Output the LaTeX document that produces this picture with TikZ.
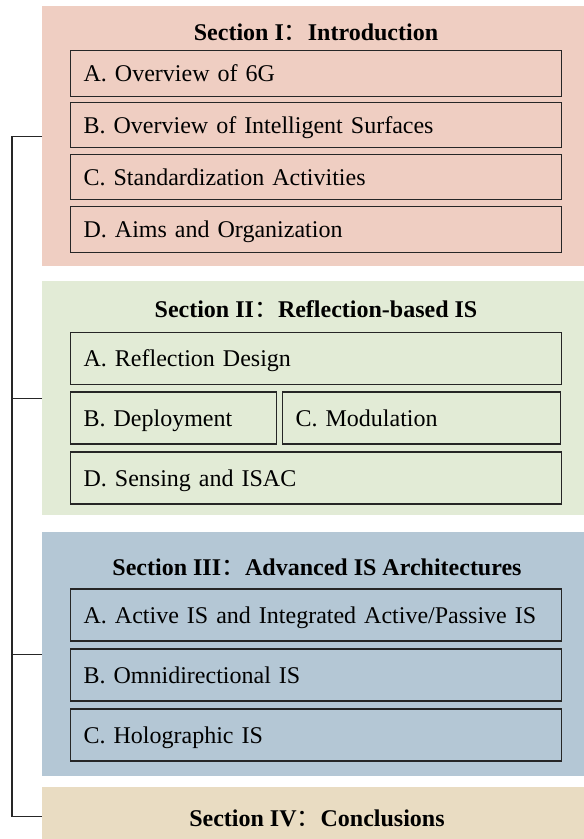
\documentclass[tikz,border=0pt]{standalone}
\usepackage{fontspec}
\setmainfont{Liberation Serif}
\newfontfamily\cjk{Noto Sans CJK SC}
\usepackage{tikz}
\usetikzlibrary{positioning}

\definecolor{secone}{HTML}{EFCEC2}
\definecolor{sectwo}{HTML}{E2EBD6}
\definecolor{secthree}{HTML}{B4C7D5}
\definecolor{secfour}{HTML}{E9DCC2}
\definecolor{boxline}{HTML}{262626}

\begin{document}
\begin{tikzpicture}[x=1pt,y=-1pt,font=\fontsize{24}{28}\selectfont]
	\useasboundingbox (0,0) rectangle (584,839);
	% section backgrounds
	\begin{scope}[every node/.style={anchor=north west,inner sep=0,minimum width=542}]
		\node[fill=secone,minimum height=260] (s1) at (42,6) {};
		\node[fill=sectwo,minimum height=234] (s2) at (42,281) {};
		\node[fill=secthree,minimum height=244] (s3) at (42,532) {};
		\node[fill=secfour,minimum height=58] (s4) at (42,787) {};
	\end{scope}

	% section titles
	\begin{scope}[every node/.style={font=\fontsize{24}{28}\selectfont\bfseries,inner sep=0}]
		\node (t1) at (316,32) {Section I{\cjk\mdseries ：}Introduction};
		\node (t2) at (316,309) {Section II{\cjk\mdseries ：}Reflection-based IS};
		\node (t3) at (317,567) {Section III{\cjk\mdseries ：}Advanced IS Architectures};
		\node (t4) at (317,818) {Section IV{\cjk\mdseries ：}Conclusions};
	\end{scope}

	% subsections
	\begin{scope}[every node/.style={draw=boxline,line width=1.3,anchor=west,align=left,
	              inner xsep=13,inner ysep=0,text width=465,text height=20,text depth=4}]
		\node[minimum height=45.5] (1a) at (70,73.5) {A. Overview of 6G};
		\node[minimum height=45.5] (1b) at (70,125) {B. Overview of Intelligent Surfaces};
		\node[minimum height=45.5] (1c) at (70,177) {C. Standardization Activities};
		\node[minimum height=45.5] (1d) at (70,229.5) {D. Aims and Organization};
		\node[minimum height=52] (2a) at (70,358.5) {A. Reflection Design};
		\node[minimum height=52,text width=180] (2b) at (70,418) {B. Deployment};
		\node[minimum height=52,text width=252] (2c) at (282,418) {C. Modulation};
		\node[minimum height=52] (2d) at (70,478) {D. Sensing and ISAC};
		\node[minimum height=52] (3a) at (70,615) {A. Active IS and Integrated Active/Passive IS};
		\node[minimum height=52] (3b) at (70,675) {B. Omnidirectional IS};
		\node[minimum height=52] (3c) at (70,735) {C. Holographic IS};
	\end{scope}

	% bracket
	\begin{scope}[every path/.style={draw=boxline,line width=1.3}]
		\path (s1.west) -- ++(-30,0) |- (s4.west);
		\path (s2.west) -- ++(-30,0);
		\path (s3.west) -- ++(-30,0);
	\end{scope}
\end{tikzpicture}
\end{document}
